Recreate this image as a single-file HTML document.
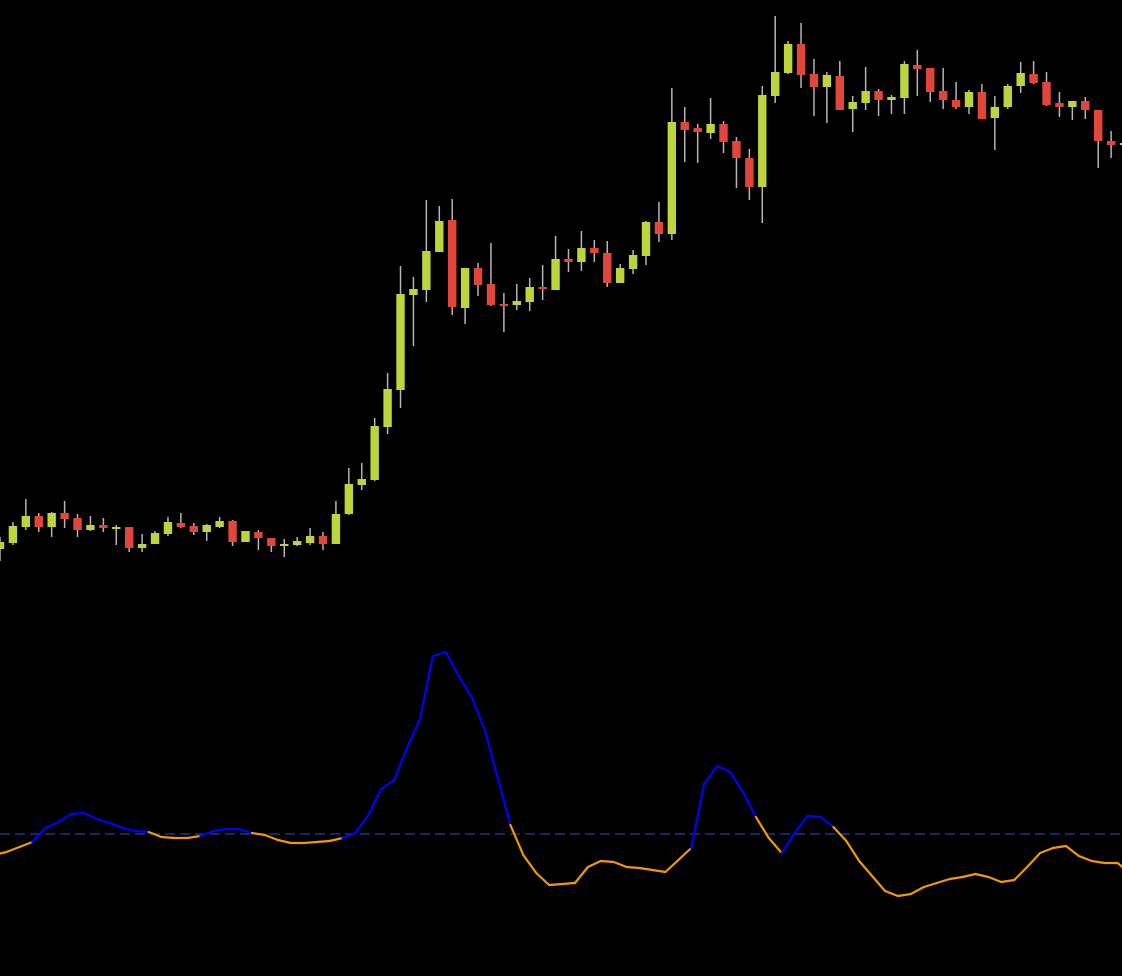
<!DOCTYPE html>
<html>
<head>
<meta charset="utf-8">
<style>
html,body{margin:0;padding:0;background:#000;}
#chart{display:block;width:1122px;height:976px;background:#000;}
</style>
</head>
<body>
<svg id="chart" width="1122" height="976" viewBox="0 0 1122 976" xmlns="http://www.w3.org/2000/svg">
  <g id="candles"></g>
  <line id="zero" x1="0" x2="1122" y1="834" y2="834" stroke="#2b3aa8" stroke-width="1.2" stroke-dasharray="10,5"/>
  <g id="osc"></g>
</svg>
<script>
const opens  = [451,457,473,484,473,487,482,470,475,472,473,452,456,466,477,474,468,473,479,458,468,462,454,455,457,464,456,486,515,520,573,610,705,710,748,780,692,732,716,696,695,698,713,710,741,738,752,747,717,731,744,778,766,878,872,867,876,859,842,813,904,927,956,926,913,924,891,897,909,900,902,935,932,909,900,893,908,882,893,914,926,918,897,893,899,890,859,855];
const highs  = [463,478,501,487,488,499,486,484,482,475,473,466,469,483,487,477,476,483,480,469,470,462,461,463,472,468,499,532,537,582,627,734,723,800,794,801,732,737,757,707,716,722,735,764,751,769,760,759,736,750,779,798,912,893,876,902,879,863,851,914,984,959,977,941,928,939,904,933,911,905,939,950,932,932,918,910,916,904,916,938,939,928,908,899,903,890,869,860];
const lows   = [439,455,470,468,463,472,463,469,468,455,448,448,456,464,472,465,459,472,454,458,450,448,443,454,455,450,456,485,510,519,566,592,654,698,748,685,676,704,694,668,690,689,700,710,728,729,738,713,717,726,735,758,760,838,837,861,847,812,800,777,897,926,912,884,877,890,868,890,884,886,886,904,898,891,891,886,881,850,891,907,916,894,883,880,881,832,842,854];
const closes = [458,474,484,473,487,481,470,475,472,473,452,456,467,478,473,468,475,479,458,469,462,454,456,459,464,456,486,516,521,574,611,706,711,749,779,693,732,715,695,695,699,713,711,741,738,752,747,717,732,745,778,766,878,870,868,876,858,842,813,905,928,956,925,913,925,890,898,909,900,903,936,931,908,900,893,908,881,893,914,927,917,895,893,899,890,859,855,857];
// oscillator values, first entry is one bar before the first candle
const oscValues = [-21,-18,-13,-8,6,12,20,21,15,11,6,3,2,-3,-4,-4,-2,3,5,5,1,-1,-6,-9,-9,-8,-7,-4,1,19,45,54,86,115,178,182,158,137,105,57,9,-21,-39,-51,-50,-49,-33,-27,-28,-33,-34,-36,-38,-26,-14,50,68,62,42,17,-4,-19,1,18,17,7,-7,-27,-42,-57,-62,-60,-53,-49,-45,-43,-40,-43,-48,-46,-33,-19,-14,-12,-22,-27,-29,-29,-40];

const STEP = 12.92;
function xCandle(i){ return i*STEP; }
function yPrice(p){ return 1000 - p; }
function xOsc(j){ return 6.5 + (j-1)*STEP; }
function yOsc(v){ return 834 - v; }

const NS = "http://www.w3.org/2000/svg";
const cg = document.getElementById('candles');
for (let i=0;i<opens.length;i++){
  const x = xCandle(i);
  const up = closes[i] >= opens[i];
  const g = document.createElementNS(NS,'g');
  
  
  const w = document.createElementNS(NS,'line');
  
  
  w.setAttribute('x1', x); w.setAttribute('x2', x);
  w.setAttribute('y1', yPrice(highs[i])); w.setAttribute('y2', yPrice(lows[i]));
  w.setAttribute('stroke', '#b5b5b5'); w.setAttribute('stroke-width', '1.5');
  g.appendChild(w);
  const top = yPrice(Math.max(opens[i], closes[i]));
  const bot = yPrice(Math.min(opens[i], closes[i]));
  const r = document.createElementNS(NS,'rect');
  
  
  r.setAttribute('x', x-4.2); r.setAttribute('width', 8.4);
  r.setAttribute('y', top); r.setAttribute('height', Math.max(bot-top, 2));
  r.setAttribute('fill', up ? '#bdd43d' : '#e2463a');
  g.appendChild(r);
  cg.appendChild(g);
}

const og = document.getElementById('osc');
for (let j=1;j<oscValues.length;j++){
  const l = document.createElementNS(NS,'line');
  
  
  l.setAttribute('x1', xOsc(j-1)); l.setAttribute('y1', yOsc(oscValues[j-1]));
  l.setAttribute('x2', xOsc(j)); l.setAttribute('y2', yOsc(oscValues[j]));
  l.setAttribute('stroke', oscValues[j] > 0 ? '#0000ff' : '#f0980a');
  l.setAttribute('stroke-width', '2.2');
  l.setAttribute('stroke-linecap', 'round');
  og.appendChild(l);
}
</script>
</body>
</html>
